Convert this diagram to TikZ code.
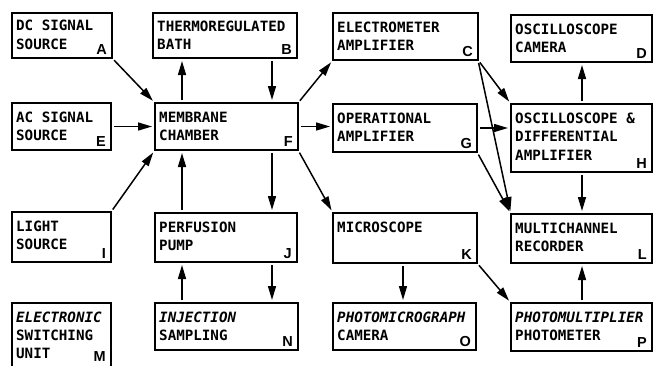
\documentclass[tikz,border=0pt]{standalone}
\usepackage{fontspec}
\usetikzlibrary{arrows.meta,calc}
\newfontfamily\monof{DejaVu Sans Mono}
\newfontfamily\labf{Liberation Sans}
\newcommand\blk[6]{%
  \node[box,minimum width=#4pt,minimum height=#5pt] (#1) at (#2,#3) {};
  \node[lab] (#1l) at ($(#1.south east)+(-5,-4)$) {#6};}
\newcommand\tline[4]{%
  \node[txt] (#1t#2) at ($(#1.north west)+(4,#3)$) {#4};}
\newcommand\iline[4]{%
  \node[itx] (#1t#2) at ($(#1.north west)+(4,#3)$) {#4};}
\begin{document}
\begin{tikzpicture}[x=1pt,y=-1pt,
  box/.style={draw,line width=1.8pt,inner sep=0pt,outer sep=0pt,anchor=north west},
  txt/.style={inner sep=0pt,anchor=base west,font=\monof\bfseries\fontsize{14.2}{17}\selectfont},
  itx/.style={inner sep=0pt,anchor=base west,font=\monof\bfseries\itshape\fontsize{14.2}{17}\selectfont},
  lab/.style={inner sep=0pt,anchor=base east,font=\labf\bfseries\fontsize{14.5}{16}\selectfont},
  arr/.style={line width=1.5pt,-{Triangle[length=14pt,width=8pt]},shorten >=3pt,shorten <=3pt}]
\useasboundingbox (0,0) rectangle (653,365);
\blk{A}{12}{13}{100}{45}{A}
\blk{B}{153}{13}{144}{45}{B}
\blk{C}{333}{13}{145}{47}{C}
\blk{D}{511}{15}{141}{47}{D}
\blk{E}{12}{103}{99}{47}{E}
\blk{F}{155}{103}{143}{47}{F}
\blk{G}{333}{104}{144}{48}{G}
\blk{H}{511}{104}{141}{68}{H}
\blk{I}{12}{212}{99}{50}{I}
\blk{J}{155}{213}{142}{49}{J}
\blk{K}{333}{213}{144}{50}{K}
\blk{L}{511}{214}{141}{49}{L}
\node[box,minimum width=99pt,minimum height=75pt] (M) at (12,303) {};
\node[lab] (Ml) at ($(M.north east)+(-5,58.5)$) {M};
\blk{N}{155}{303}{143}{47}{N}
\blk{O}{333}{303}{143}{47}{O}
\blk{P}{511}{303}{141}{48}{P}
% texts
\tline{A}{1}{17}{DC SIGNAL}
\tline{A}{2}{36}{SOURCE}
\tline{B}{1}{18}{THERMOREGULATED}
\tline{B}{2}{36.5}{BATH}
\tline{C}{1}{19}{ELECTROMETER}
\tline{C}{2}{37.5}{AMPLIFIER}
\tline{D}{1}{19}{OSCILLOSCOPE}
\tline{D}{2}{37.5}{CAMERA}
\tline{E}{1}{19}{AC SIGNAL}
\tline{E}{2}{37.5}{SOURCE}
\tline{F}{1}{19}{MEMBRANE}
\tline{F}{2}{37.5}{CHAMBER}
\tline{G}{1}{19}{OPERATIONAL}
\tline{G}{2}{37.5}{AMPLIFIER}
\tline{H}{1}{19}{OSCILLOSCOPE \&}
\tline{H}{2}{37.5}{DIFFERENTIAL}
\tline{H}{3}{56}{AMPLIFIER}
\tline{I}{1}{19}{LIGHT}
\tline{I}{2}{37.5}{SOURCE}
\tline{J}{1}{19}{PERFUSION}
\tline{J}{2}{37.5}{PUMP}
\tline{K}{1}{19}{MICROSCOPE}
\tline{L}{1}{19}{MULTICHANNEL}
\tline{L}{2}{37.5}{RECORDER}
\iline{M}{1}{19}{ELECTRONIC}
\tline{M}{2}{37}{SWITCHING}
\tline{M}{3}{55}{UNIT}
\iline{N}{1}{19}{INJECTION}
\tline{N}{2}{37.5}{SAMPLING}
\iline{O}{1}{19}{PHOTOMICROGRAPH}
\tline{O}{2}{37.5}{CAMERA}
\iline{P}{1}{19}{PHOTOMULTIPLIER}
\tline{P}{2}{37.5}{PHOTOMETER}
% column coordinates
\coordinate (c182) at (182,0);
\coordinate (c272) at (272,0);
\coordinate (c403) at (403,0);
\coordinate (c582) at (582,0);
% connectors
\draw[arr] (A.south east) -- (F.north west);
\draw[arr] (F.north -| c182) -- (B.south -| c182);
\draw[arr] (B.south -| c272) -- (F.north -| c272);
\draw[arr] (F.north east) -- (C.south west);
\draw[arr] (E.east) -- (E.east -| F.west);
\draw[arr] (F.east) -- (F.east -| G.west);
\draw[arr] (I.north east) -- (F.south west);
\draw[arr] (J.north -| c182) -- (F.south -| c182);
\draw[arr] (F.south -| c272) -- (J.north -| c272);
\draw[arr] (F.south east) -- (K.north west);
\draw[arr] (C.south east) -- (H.north west);
\draw[arr] (C.south east) -- (L.north west);
\draw[arr] (G.east) -- (G.east -| H.west);
\draw[arr] (G.south east) -- (L.north west);
\draw[arr] (H.north -| c582) -- (D.south -| c582);
\draw[arr] (H.south -| c582) -- (L.north -| c582);
\draw[arr] (K.south -| c403) -- (O.north -| c403);
\draw[arr] (K.south east) -- (P.north west);
\draw[arr] (P.north -| c582) -- (L.south -| c582);
\draw[arr] (N.north -| c182) -- (J.south -| c182);
\draw[arr] (J.south -| c272) -- (N.north -| c272);
\end{tikzpicture}
\end{document}
